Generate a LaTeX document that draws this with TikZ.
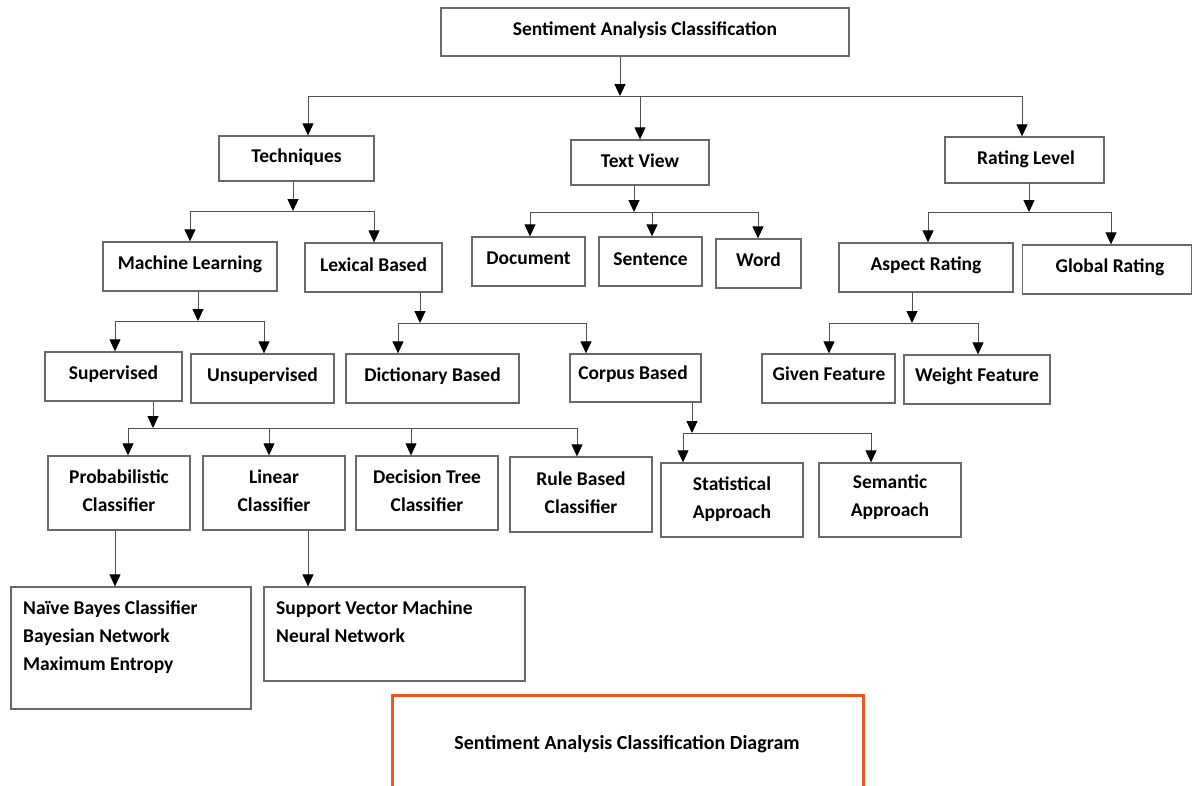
\documentclass[tikz,border=0pt]{standalone}
\usepackage{fontspec}
\setmainfont{Carlito}
\usetikzlibrary{arrows.meta}
\definecolor{boxgray}{RGB}{105,105,105}
\definecolor{linegray}{RGB}{80,80,80}
\definecolor{accent}{RGB}{238,88,30}
\tikzset{
  box/.style={draw=boxgray, line width=1.3pt, rectangle, inner sep=0pt},
  lbl/.style={font=\bfseries\fontsize{19.5}{28}\selectfont, align=center, inner sep=0pt, yshift=-2pt},
  listlbl/.style={font=\bfseries\fontsize{19.5}{28}\selectfont, align=left, inner sep=0pt, anchor=north west},
  wire/.style={draw=linegray, line width=1pt},
  arr/.style={wire, -{Triangle[width=11pt,length=12pt,color=black,fill=black]}},
}
% \bx{name}{cx}{cy}{w}{h}
\newcommand\bx[5]{\node[box, minimum width=#4, minimum height=#5] (#1) at (#2,#3) {};}
\begin{document}
\begin{tikzpicture}[x=1pt,y=-1pt]
\useasboundingbox (0,0) rectangle (1193,785);

% ---- boxes ----
\bx{root}{645}{32}{408}{48}
\bx{tech}{296.5}{158.5}{155}{45}
\bx{tv}{640}{162.5}{138}{45}
\bx{rl}{1024.5}{160}{159}{46}
\bx{ml}{190}{266.5}{174}{49}
\bx{lb}{373.5}{267.5}{137}{49}
\bx{doc}{528.5}{261.5}{113}{49}
\bx{sen}{650.5}{261.5}{103}{49}
\bx{word}{758.5}{263.5}{85}{49}
\bx{asp}{926}{267.5}{174}{49}
\bx{glob}{1107}{269.5}{169}{49}
\bx{sup}{113.5}{376.5}{137}{49}
\bx{uns}{262.5}{378.5}{143}{49}
\bx{dict}{432.5}{378.5}{173}{49}
\bx{corp}{635.5}{378}{131}{48}
\bx{given}{828.5}{378.5}{133}{49}
\bx{weight}{977}{379.5}{146}{49}
\bx{prob}{119}{493}{142}{74}
\bx{lin}{274}{493}{142}{74}
\bx{dt}{427}{493}{142}{74}
\bx{rb}{581}{494.5}{142}{75}
\bx{stat}{732}{500}{142}{74}
\bx{sem}{890}{500}{142}{74}
\bx{naive}{131}{648}{240}{122}
\bx{svm}{394.5}{634}{261}{94}
\node[draw=accent, line width=3pt, minimum width=471, minimum height=105, inner sep=0pt] (title) at (627.5,747.5) {};

% ---- labels ----
\node[lbl] (rootL) at (645,28) {Sentiment Analysis Classification};
\node[lbl] (techL) at (296.5,155) {Techniques};
\node[lbl] (tvL) at (640,159) {Text View};
\node[lbl] (rlL) at (1026,157) {Rating Level};
\node[lbl] (mlL) at (190,262) {Machine Learning};
\node[lbl] (lbL) at (373.5,263) {Lexical Based};
\node[lbl] (docL) at (528.5,256) {Document};
\node[lbl] (senL) at (650.5,257) {Sentence};
\node[lbl] (wordL) at (758.5,258) {Word};
\node[lbl] (aspL) at (926,263) {Aspect Rating};
\node[lbl] (globL) at (1110,265) {Global Rating};
\node[lbl] (supL) at (113.5,372) {Supervised};
\node[lbl] (unsL) at (262.5,374) {Unsupervised};
\node[lbl] (dictL) at (432.5,374) {Dictionary Based};
\node[lbl] (corpL) at (633,372) {Corpus Based};
\node[lbl] (givenL) at (829,372) {Given Feature};
\node[lbl] (weightL) at (977,374) {Weight Feature};
\node[lbl] (probL) at (119,489) {Probabilistic\\Classifier};
\node[lbl] (linL) at (274,489) {Linear\\Classifier};
\node[lbl] (dtL) at (427,489) {Decision Tree\\Classifier};
\node[lbl] (rbL) at (581,491) {Rule Based\\Classifier};
\node[lbl] (statL) at (732,497) {Statistical\\Approach};
\node[lbl] (semL) at (890,495) {Semantic\\Approach};
\node[listlbl] (naiveL) at (23,601) {Naïve Bayes Classifier\\Bayesian Network\\Maximum Entropy};
\node[listlbl] (svmL) at (276,601) {Support Vector Machine\\Neural Network};
\node[lbl, font=\bfseries\fontsize{20}{24}\selectfont] (titleL) at (627,742) {Sentiment Analysis Classification Diagram};

% ---- junction points on the buses ----
\coordinate (j0) at (620,96);
\coordinate (j1) at (293,211);
\coordinate (j2) at (634,212);
\coordinate (j3) at (1029,212);
\coordinate (j4) at (198,321);
\coordinate (j5) at (420,323);
\coordinate (j6) at (912,323);
\coordinate (j7) at (153,428);
\coordinate (j8) at (692,433);

% ---- drop points on the children ----
\coordinate (techT) at ([xshift=11.5]tech.north);
\coordinate (tvT) at (tv.north);
\coordinate (rlT) at ([xshift=-2.5]rl.north);
\coordinate (mlT) at (ml.north);
\coordinate (lbT) at ([xshift=0.5]lb.north);
\coordinate (docT) at ([xshift=1.5]doc.north);
\coordinate (senT) at ([xshift=1.5]sen.north);
\coordinate (wordT) at ([xshift=-0.5]word.north);
\coordinate (aspT) at ([xshift=2]asp.north);
\coordinate (globT) at ([xshift=4]glob.north);
\coordinate (supT) at ([xshift=1.5]sup.north);
\coordinate (unsT) at ([xshift=1.5]uns.north);
\coordinate (dictT) at ([xshift=-34.5]dict.north);
\coordinate (corpT) at ([xshift=-49.5]corp.north);
\coordinate (givenT) at ([xshift=0.5]given.north);
\coordinate (weightT) at ([xshift=1]weight.north);
\coordinate (probT) at ([xshift=9]prob.north);
\coordinate (linT) at ([xshift=-5]lin.north);
\coordinate (dtT) at ([xshift=-16]dt.north);
\coordinate (rbT) at ([xshift=-4]rb.north);
\coordinate (statT) at ([xshift=-49]stat.north);
\coordinate (semT) at ([xshift=-19]sem.north);
\coordinate (naiveT) at ([xshift=-16]naive.north);
\coordinate (svmT) at ([xshift=-86.5]svm.north);

% ---- connectors ----
% Sentiment Analysis Classification
\draw[arr] (root.south -| j0) -- (j0);
\draw[wire] (j0 -| techT) -- (j0 -| rlT);
\draw[arr] (j0 -| techT) -- (techT);
\draw[arr] (j0 -| tvT) -- (tvT);
\draw[arr] (j0 -| rlT) -- (rlT);
% Techniques
\draw[arr] (tech.south -| j1) -- (j1);
\draw[wire] (j1 -| mlT) -- (j1 -| lbT);
\draw[arr] (j1 -| mlT) -- (mlT);
\draw[arr] (j1 -| lbT) -- (lbT);
% Text View
\draw[arr] (tv.south -| j2) -- (j2);
\draw[wire] (j2 -| docT) -- (j2 -| wordT);
\draw[arr] (j2 -| docT) -- (docT);
\draw[arr] (j2 -| senT) -- (senT);
\draw[arr] (j2 -| wordT) -- (wordT);
% Rating Level
\draw[arr] (rl.south -| j3) -- (j3);
\draw[wire] (j3 -| aspT) -- (j3 -| globT);
\draw[arr] (j3 -| aspT) -- (aspT);
\draw[arr] (j3 -| globT) -- (globT);
% Machine Learning
\draw[arr] (ml.south -| j4) -- (j4);
\draw[wire] (j4 -| supT) -- (j4 -| unsT);
\draw[arr] (j4 -| supT) -- (supT);
\draw[arr] (j4 -| unsT) -- (unsT);
% Lexical Based
\draw[arr] (lb.south -| j5) -- (j5);
\draw[wire] (j5 -| dictT) -- (j5 -| corpT);
\draw[arr] (j5 -| dictT) -- (dictT);
\draw[arr] (j5 -| corpT) -- (corpT);
% Aspect Rating
\draw[arr] (asp.south -| j6) -- (j6);
\draw[wire] (j6 -| givenT) -- (j6 -| weightT);
\draw[arr] (j6 -| givenT) -- (givenT);
\draw[arr] (j6 -| weightT) -- (weightT);
% Supervised
\draw[arr] (sup.south -| j7) -- (j7);
\draw[wire] (j7 -| probT) -- (j7 -| rbT);
\draw[arr] (j7 -| probT) -- (probT);
\draw[arr] (j7 -| linT) -- (linT);
\draw[arr] (j7 -| dtT) -- (dtT);
\draw[arr] (j7 -| rbT) -- (rbT);
% Corpus Based
\draw[arr] (corp.south -| j8) -- (j8);
\draw[wire] (j8 -| statT) -- (j8 -| semT);
\draw[arr] (j8 -| statT) -- (statT);
\draw[arr] (j8 -| semT) -- (semT);
% classifier families
\draw[arr] (prob.south -| naiveT) -- (naiveT);
\draw[arr] (lin.south -| svmT) -- (svmT);
\end{tikzpicture}
\end{document}
